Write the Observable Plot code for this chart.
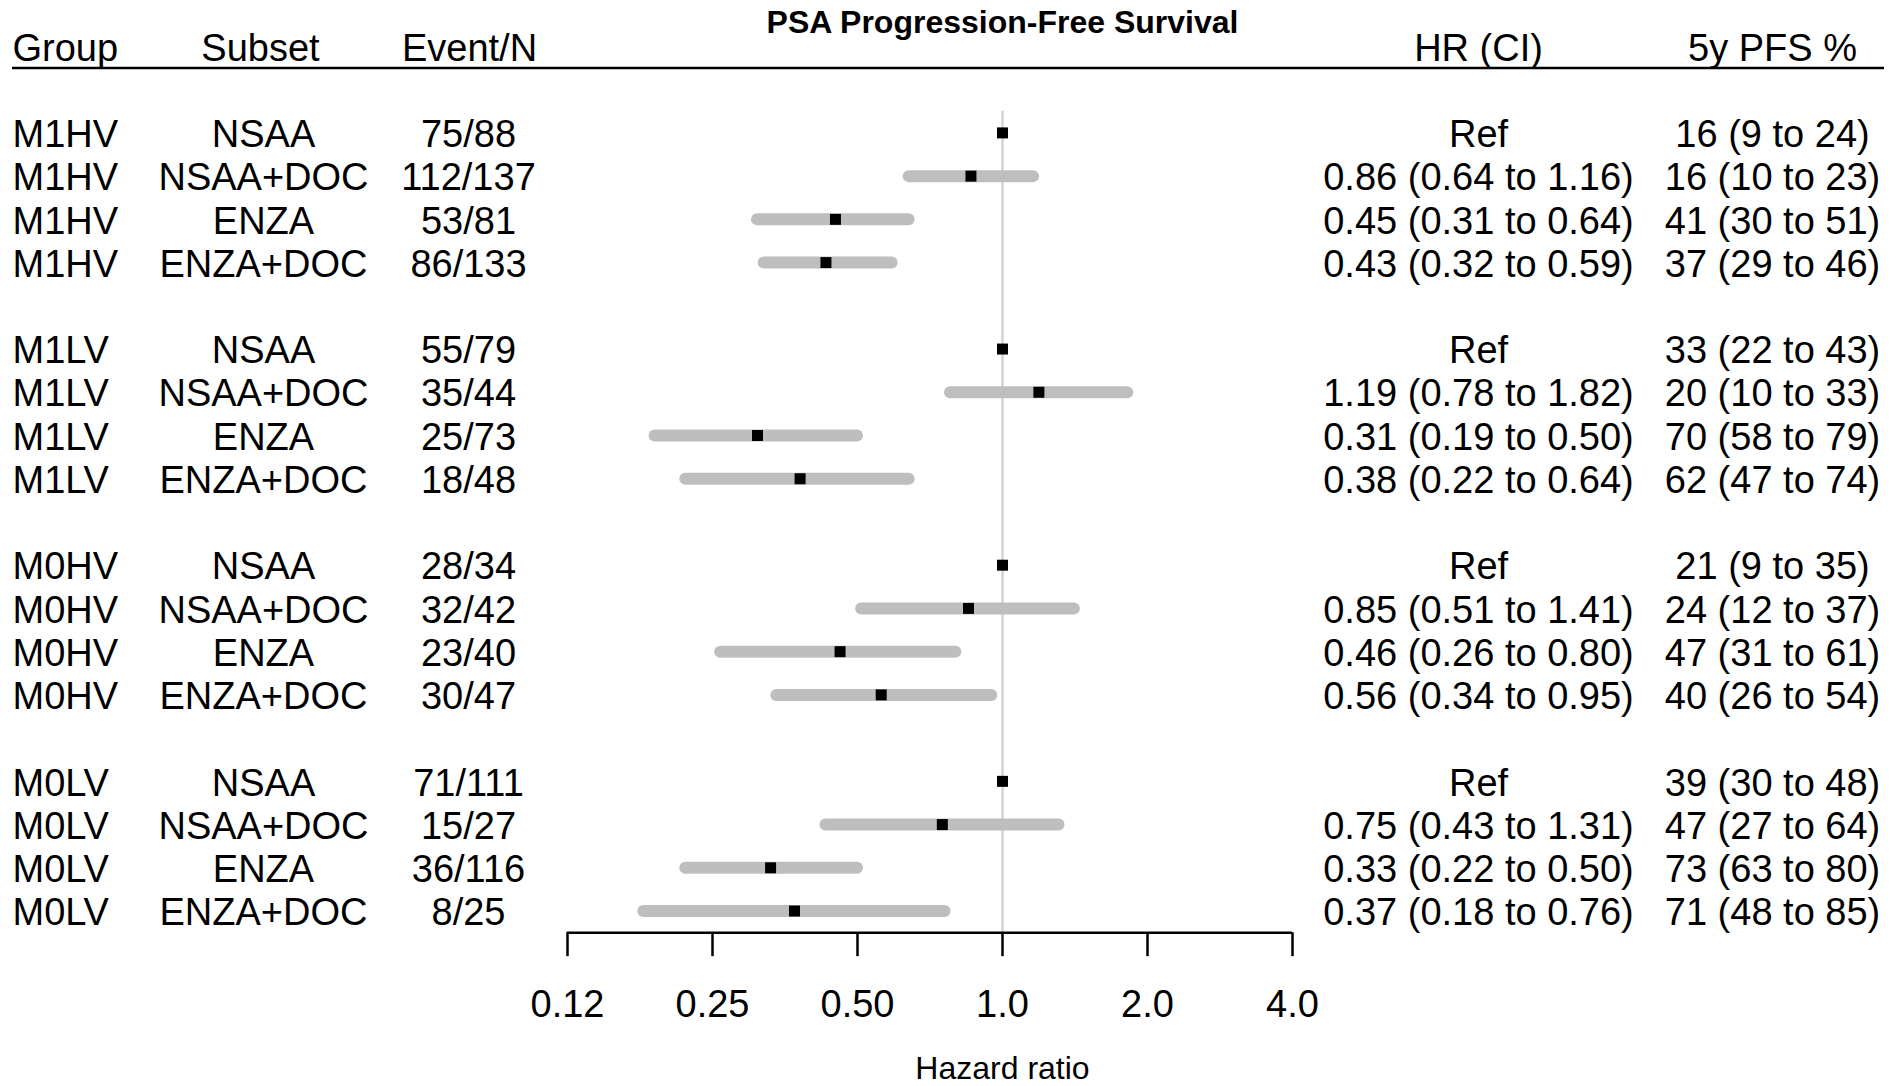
<!DOCTYPE html>
<html>
<head>
<meta charset="utf-8">
<script src="https://cdn.jsdelivr.net/npm/d3@7"></script>
<script src="https://cdn.jsdelivr.net/npm/@observablehq/plot@0.6"></script>
<style>
  html, body { margin: 0; padding: 0; background: #fff; }
  #chart svg { display: block; }
</style>
</head>
<body>
<div id="chart"></div>
<script>
// ---- Data ----
const title = "PSA Progression-Free Survival";
const axisTitle = "Hazard ratio";
const headers = ["Group", "Subset", "Event/N", "HR (CI)", "5y PFS %"];
const groups = ["M1HV", "M1LV", "M0HV", "M0LV"];
const subsets = ["NSAA", "NSAA+DOC", "ENZA", "ENZA+DOC"];
const eventN = [
  "75/88", "112/137", "53/81", "86/133",
  "55/79", "35/44", "25/73", "18/48",
  "28/34", "32/42", "23/40", "30/47",
  "71/111", "15/27", "36/116", "8/25"
];
const hr =     [1, 0.86, 0.45, 0.43,  1, 1.19, 0.31, 0.38,  1, 0.85, 0.46, 0.56,  1, 0.75, 0.33, 0.37];
const hrLow =  [null, 0.64, 0.31, 0.32,  null, 0.78, 0.19, 0.22,  null, 0.51, 0.26, 0.34,  null, 0.43, 0.22, 0.18];
const hrHigh = [null, 1.16, 0.64, 0.59,  null, 1.82, 0.50, 0.64,  null, 1.41, 0.80, 0.95,  null, 1.31, 0.50, 0.76];
const pfs =     [16, 16, 41, 37,  33, 20, 70, 62,  21, 24, 47, 40,  39, 47, 73, 71];
const pfsLow =  [9, 10, 30, 29,  22, 10, 58, 47,  9, 12, 31, 26,  30, 27, 63, 48];
const pfsHigh = [24, 23, 51, 46,  43, 33, 79, 74,  35, 37, 61, 54,  48, 64, 80, 85];
const tickValues = [0.125, 0.25, 0.5, 1, 2, 4];
const tickLabels = ["0.12", "0.25", "0.50", "1.0", "2.0", "4.0"];

// ---- Build table ----
const rows = [];
groups.forEach((g, gi) => subsets.forEach((s, si) => {
  const k = gi * subsets.length + si;
  rows.push({
    row: gi * (subsets.length + 1) + si,
    group: g,
    subset: s,
    eventN: eventN[k],
    hr: hr[k],
    lo: hrLow[k],
    hi: hrHigh[k],
    hrText: hrLow[k] == null ? "Ref"
      : `${hr[k].toFixed(2)} (${hrLow[k].toFixed(2)} to ${hrHigh[k].toFixed(2)})`,
    pfsText: `${pfs[k]} (${pfsLow[k]} to ${pfsHigh[k]})`
  });
}));
const lastRow = d3.max(rows, d => d.row);

// ---- Layout ----
const W = 1904, H = 1086;
const rowTop = 132.4, rowStep = 43.23;
const axisRow = lastRow + 0.5;
const font = "'Liberation Sans', Arial, Helvetica, sans-serif";
const FS = 38;
const columns = [
  {header: headers[0], field: "group",   dx: 0,    hdx: 0,    anchor: "start"},
  {header: headers[1], field: "subset",  dx: 251,  hdx: 248,  anchor: "middle"},
  {header: headers[2], field: "eventN",  dx: 456,  hdx: 457,  anchor: "middle"},
  {header: headers[3], field: "hrText",  dx: 1466, hdx: 1466, anchor: "middle"},
  {header: headers[4], field: "pfsText", dx: 1760, hdx: 1760, anchor: "middle"}
];

const textMarks = [];
for (const c of columns) {
  textMarks.push(Plot.text([c.header], {
    y: -2, text: d => d, frameAnchor: "left", dx: c.hdx, dy: 2,
    textAnchor: c.anchor, fontSize: FS, fill: "#000"
  }));
  textMarks.push(Plot.text(rows, {
    y: "row", text: c.field, frameAnchor: "left", dx: c.dx, dy: 2,
    textAnchor: c.anchor, fontSize: FS, fill: "#000"
  }));
}

const chart = Plot.plot({
  width: W,
  height: H,
  marginLeft: 12,
  marginRight: 20,
  marginTop: 0,
  marginBottom: H - (rowTop + axisRow * rowStep),
  style: {fontFamily: font, background: "#fff", color: "#000", overflow: "visible"},
  x: {type: "log", base: 2, domain: [tickValues[0], tickValues[tickValues.length - 1]], range: [567, 1292], axis: null},
  y: {type: "linear", domain: [0, lastRow], range: [rowTop, rowTop + lastRow * rowStep], axis: null},
  marks: [
    Plot.ruleX([1], {y1: -0.5, y2: axisRow, stroke: "#d3d3d3", strokeWidth: 2.5}),
    Plot.ruleY(rows.filter(d => d.lo != null), {
      y: "row", x1: "lo", x2: "hi", stroke: "#bebebe", strokeWidth: 12, strokeLinecap: "round"
    }),
    Plot.dot(rows, {x: "hr", y: "row", symbol: "square", r: 6.2, fill: "#000", stroke: null}),
    Plot.ruleY([-1.5], {stroke: "#000", strokeWidth: 2.5}),
    Plot.ruleY([axisRow], {x1: tickValues[0], x2: tickValues[tickValues.length - 1], stroke: "#000", strokeWidth: 2.5}),
    Plot.axisX({
      ticks: tickValues,
      tickFormat: d => tickLabels[tickValues.indexOf(d)],
      tickSize: 24, tickPadding: 33, fontSize: FS, strokeWidth: 2.5, label: null
    }),
    Plot.text([title], {
      x: 1, text: d => d, frameAnchor: "top", lineAnchor: "top", dy: 10,
      fontSize: 32, fontWeight: "bold", fill: "#000"
    }),
    Plot.text([axisTitle], {
      x: 1, text: d => d, frameAnchor: "bottom", dy: 146, fontSize: 32, fill: "#000"
    }),
    ...textMarks
  ]
});

document.getElementById("chart").appendChild(chart);
</script>
</body>
</html>
